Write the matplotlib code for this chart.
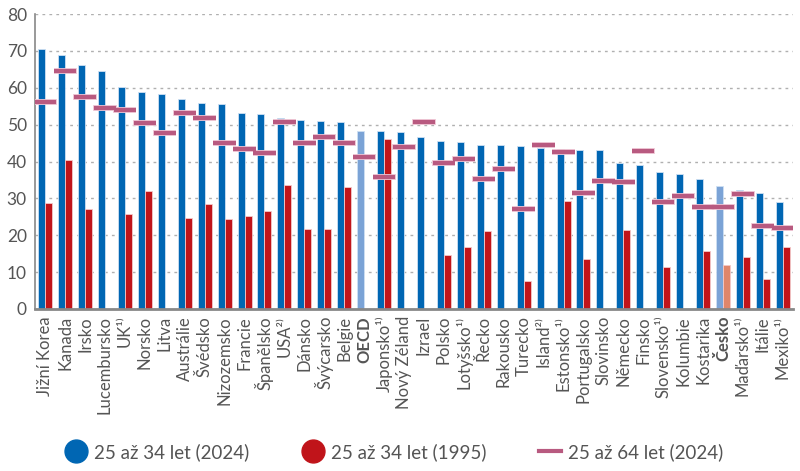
import matplotlib.pyplot as plt
import numpy as np
from matplotlib.lines import Line2D

plt.rcParams['font.family'] = ['Lato', 'DejaVu Sans']

countries = ['Jižní Korea', 'Kanada', 'Irsko', 'Lucembursko', 'UK¹⁾', 'Norsko', 'Litva',
             'Austrálie', 'Švédsko', 'Nizozemsko', 'Francie', 'Španělsko', 'USA²⁾', 'Dánsko',
             'Švýcarsko', 'Belgie', 'OECD', 'Japonsko¹⁾', 'Nový Zéland', 'Izrael', 'Polsko',
             'Lotyšsko¹⁾', 'Řecko', 'Rakousko', 'Turecko', 'Island²⁾', 'Estonsko¹⁾',
             'Portugalsko', 'Slovinsko', 'Německo', 'Finsko', 'Slovensko¹⁾', 'Kolumbie',
             'Kostarika', 'Česko', 'Maďarsko¹⁾', 'Itálie', 'Mexiko¹⁾']

young_2024 = [70.5, 68.8, 66.1, 64.6, 60.3, 59.0, 58.3, 57.1, 56.0, 55.6, 53.3, 52.9, 51.9, 51.3,
              51.1, 50.7, 48.2, 48.2, 47.9, 46.6, 45.6, 45.4, 44.6, 44.4, 44.2, 43.6, 43.3,
              43.1, 43.1, 39.6, 39.1, 37.2, 36.6, 35.2, 33.4, 32.3, 31.6, 29.1]

young_1995 = [28.8, 40.4, 27.2, None, 25.9, 32.0, None, 24.7, 28.6, 24.5, 25.3, 26.6, 33.6, 21.7,
              21.6, 33.0, None, 46.1, None, None, 14.6, 16.9, 21.1, None, 7.6, None, 29.4,
              13.6, None, 21.3, None, 11.3, None, 15.6, 11.8, 14.0, 8.2, 16.7]

all_2024 = [56.2, 64.7, 57.6, 54.4, 53.9, 50.5, 47.7, 53.1, 51.9, 45.1, 43.4, 42.3, 50.8, 45.1,
            46.6, 45.1, 41.3, 35.7, 44.0, 50.6, 39.5, 40.6, 35.4, 37.9, 27.0, 44.6, 42.6,
            31.5, 34.7, 34.4, 42.8, 29.1, 30.6, 27.8, 27.6, 31.2, 22.4, 22.0]

blue = '#0066b3'
red = '#c0141a'
mauve = '#b85a80'
gray = '#555555'

fig = plt.figure(figsize=(8, 4.71), dpi=100)
ax = fig.add_axes([0.044, 0.344, 0.947, 0.626])

x = np.arange(len(countries))
w = 0.35
for i, c in enumerate(countries):
    bc = '#7ba3d6' if c in ('OECD', 'Česko') else blue
    ax.bar(x[i] - w / 2, young_2024[i], w, color=bc, edgecolor='#cfe0f3', linewidth=0.6, zorder=2)
    if young_1995[i] is not None:
        rc = '#e0866a' if c == 'Česko' else red
        ax.bar(x[i] + w / 2, young_1995[i], w, color=rc, edgecolor='#f3c9c9', linewidth=0.6, zorder=2)

ax.hlines(all_2024, x - 0.58, x + 0.58, color='#f0c8d6', linewidth=4.2, zorder=3)
ax.hlines(all_2024, x - 0.56, x + 0.56, color=mauve, linewidth=3, zorder=4)

ax.set_xlim(-0.5, len(countries) - 0.5)
ax.set_ylim(0, 80)
ax.set_yticks(range(0, 81, 10))
ax.yaxis.grid(True, linestyle=(0, (2, 3)), color='#b0b0b0', linewidth=1, zorder=0)
ax.set_axisbelow(True)

ax.set_xticks(x)
ax.set_xticklabels(countries, rotation=90, fontsize=12, color=gray)
for lbl in ax.get_xticklabels():
    if lbl.get_text() in ('OECD', 'Česko'):
        lbl.set_fontweight('bold')
ax.tick_params(axis='y', length=0, labelsize=12.5, labelcolor=gray, pad=6)
ax.tick_params(axis='x', length=0, labelcolor=gray, pad=5)

for s in ('top', 'right'):
    ax.spines[s].set_visible(False)
ax.spines['left'].set_color('#888888')
ax.spines['left'].set_linewidth(1.2)
ax.spines['bottom'].set_color('#888888')
ax.spines['bottom'].set_linewidth(2)

handles = [
    Line2D([], [], linestyle='none', marker='o', markersize=16.5, color=blue),
    Line2D([], [], linestyle='none', marker='o', markersize=16.5, color=red),
    Line2D([], [], color=mauve, linewidth=3),
]
fig.legend(handles, ['25 až 34 let (2024)', '25 až 34 let (1995)', '25 až 64 let (2024)'],
           loc='center left', bbox_to_anchor=(0.081, 0.0403), ncol=3, frameon=False,
           fontsize=13.5, labelcolor=gray, handlelength=1.2, handletextpad=0.35,
           columnspacing=2.8, borderpad=0, borderaxespad=0)

fig.savefig('out.png', dpi=100)
